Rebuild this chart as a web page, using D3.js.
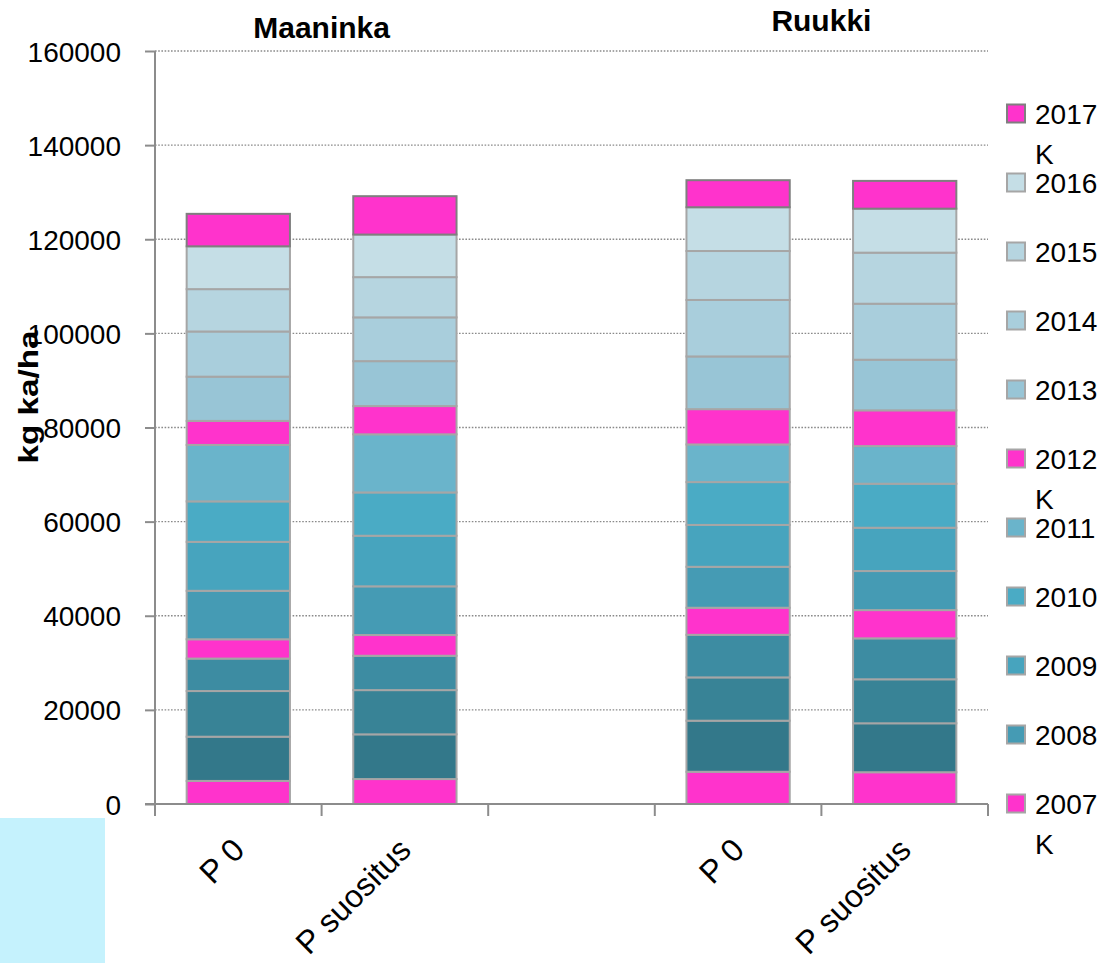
<!DOCTYPE html>
<html>
<head>
<meta charset="utf-8">
<script src="https://cdn.jsdelivr.net/npm/d3@7"></script>
<style>
  body { margin: 0; background: #fff; }
  text { font-family: "Liberation Sans", Arial, sans-serif; }
</style>
</head>
<body>
<div class="chart"></div>
<script>
// categories along x (third slot is an empty gap between the two sites)
const categories = ["m0", "ms", "gap", "r0", "rs"];
const catLabels = ["P 0", "P suositus", "", "P 0", "P suositus"];
const groups = ["Maaninka", "Ruukki"];

// stacked series, bottom to top
const series = ["2003 K", "2004", "2005", "2006", "2007 K", "2008", "2009", "2010",
                "2011", "2012 K", "2013", "2014", "2015", "2016", "2017 K"];
const colors = ["#ff33cc", "#33788a", "#388396", "#3d8ca2", "#ff33cc", "#459bb4", "#47a4be",
                "#4aabc5", "#6ab4cb", "#ff33cc", "#98c5d6", "#a9cedc", "#b6d5e0", "#c5dee6", "#ff33cc"];

const maaninkaP0 = [4900, 9400, 9700, 6900, 4100, 10300, 10400, 8600, 12000, 5100, 9400, 9600, 9000, 9100, 6900];
const maaninkaPs = [5300, 9500, 9400, 7300, 4400, 10350, 10750, 9200, 12350, 6000, 9550, 9300, 8550, 9050, 8150];
const ruukkiP0   = [6850, 10850, 9200, 9050, 5750, 8700, 8900, 9100, 8000, 7500, 11200, 12000, 10400, 9300, 5750];
const ruukkiPs   = [6750, 10400, 9350, 8700, 6000, 8300, 9200, 9350, 8000, 7600, 10750, 11900, 10850, 9350, 5900];

const yTicks = [0, 20000, 40000, 60000, 80000, 100000, 120000, 140000, 160000];

// legend shows only the entries that fit (Excel cut off the rest)
const legendSeries = series.slice(4).reverse();

const barValues = {m0: maaninkaP0, ms: maaninkaPs, r0: ruukkiP0, rs: ruukkiPs};
const table = categories.filter(c => barValues[c]).map(c => {
  const row = {cat: c};
  series.forEach((s, i) => row[s] = barValues[c][i]);
  return row;
});

const W = 1112, H = 963;
const plotLeft = 155, plotRight = 988, plotTop = 51, plotBottom = 804;

const svg = d3.select(".chart").append("svg")
  .attr("width", W)
  .attr("height", H);

const x = d3.scaleBand()
  .domain(categories)
  .range([plotLeft, plotRight])
  .paddingInner(0.38)
  .paddingOuter(0.19);

const y = d3.scaleLinear()
  .domain([0, 160000])
  .range([plotBottom, plotTop]);

const color = d3.scaleOrdinal().domain(series).range(colors);

// grid lines
svg.append("g")
  .selectAll("line")
  .data(yTicks.filter(d => d > 0))
  .enter()
  .append("line")
  .attr("x1", plotLeft).attr("x2", plotRight)
  .attr("y1", d => y(d)).attr("y2", d => y(d))
  .attr("stroke", "#8a8a8a")
  .attr("stroke-width", 1.3)
  .attr("stroke-dasharray", "1.6,1.6");

// y axis
const yAxis = svg.append("g")
  .attr("transform", `translate(${plotLeft},0)`)
  .call(d3.axisLeft(y).tickValues(yTicks).tickSize(10).tickSizeOuter(0).tickPadding(24).tickFormat(d3.format("d")));
yAxis.select(".domain").remove();
yAxis.selectAll(".tick line").attr("stroke", "#8c8c8c").attr("stroke-width", 2);
yAxis.selectAll("text")
  .attr("font-size", 28)
  .attr("fill", "#000")
  .attr("dy", "0.36em")
  .style("font-family", "Liberation Sans, Arial, sans-serif");

svg.append("line")
  .attr("x1", plotLeft).attr("x2", plotLeft)
  .attr("y1", y(160000)).attr("y2", plotBottom + 12)
  .attr("stroke", "#8c8c8c").attr("stroke-width", 2);

// stacked bars
const stacked = d3.stack().keys(series)(table);

svg.append("g")
  .selectAll("g")
  .data(stacked)
  .enter()
  .append("g")
  .attr("fill", d => color(d.key))
  .attr("stroke", (d, i) => i === series.length - 1 ? "#7f7f7f" : "#a6a6a6")
  .attr("stroke-width", 2)
  .selectAll("rect")
  .data(d => d)
  .enter()
  .append("rect")
  .attr("x", d => x(d.data.cat))
  .attr("y", d => y(d[1]))
  .attr("width", x.bandwidth())
  .attr("height", d => y(d[0]) - y(d[1]));

// x axis
svg.append("line")
  .attr("x1", plotLeft - 10).attr("x2", plotRight)
  .attr("y1", plotBottom).attr("y2", plotBottom)
  .attr("stroke", "#8c8c8c").attr("stroke-width", 2);

const step = x.step();
svg.append("g")
  .selectAll("line")
  .data(d3.range(categories.length + 1))
  .enter()
  .append("line")
  .attr("x1", i => plotLeft + i * step).attr("x2", i => plotLeft + i * step)
  .attr("y1", plotBottom).attr("y2", plotBottom + 12)
  .attr("stroke", "#8c8c8c").attr("stroke-width", 2);

svg.append("g")
  .selectAll("text")
  .data(categories.map((c, i) => ({cat: c, label: catLabels[i]})).filter(d => d.label))
  .enter()
  .append("text")
  .attr("transform", d => `translate(${x(d.cat) + x.bandwidth() / 2 + 8},${plotBottom + 48}) rotate(-45)`)
  .attr("text-anchor", "end")
  .attr("font-size", 32)
  .attr("fill", "#000")
  .text(d => d.label);

// site titles
const titlePos = [
  {name: groups[0], cx: (x("m0") + x("ms") + x.bandwidth()) / 2, by: 38},
  {name: groups[1], cx: (x("r0") + x("rs") + x.bandwidth()) / 2, by: 31}
];
svg.append("g")
  .selectAll("text")
  .data(titlePos)
  .enter()
  .append("text")
  .attr("x", d => d.cx)
  .attr("y", d => d.by)
  .attr("text-anchor", "middle")
  .attr("font-size", 30)
  .attr("font-weight", "bold")
  .text(d => d.name);

// y axis title
svg.append("text")
  .attr("transform", "translate(38,397) rotate(-90)")
  .attr("text-anchor", "middle")
  .attr("font-size", 27)
  .attr("font-weight", "bold")
  .attr("textLength", 133)
  .attr("lengthAdjust", "spacingAndGlyphs")
  .text("kg ka/ha");

// legend
const legend = svg.append("g")
  .selectAll("g")
  .data(legendSeries)
  .enter()
  .append("g")
  .attr("transform", (d, i) => `translate(1007,${113.5 + i * 69})`);

legend.append("rect")
  .attr("x", 0).attr("y", -9)
  .attr("width", 18).attr("height", 18)
  .attr("fill", d => color(d))
  .attr("stroke", (d, i) => i === 0 ? "#7f7f7f" : "#a6a6a6")
  .attr("stroke-width", 2);

legend.append("text")
  .attr("x", 28)
  .attr("y", 10)
  .attr("font-size", 28)
  .attr("fill", "#000")
  .each(function(d) {
    const parts = d.split(" ");
    d3.select(this).append("tspan").attr("x", 28).text(parts[0]);
    if (parts[1]) d3.select(this).append("tspan").attr("x", 28).attr("dy", 40).text(parts[1]);
  });

// pale blue patch in the lower-left corner
svg.append("rect")
  .attr("x", 0).attr("y", 818)
  .attr("width", 105).attr("height", H - 818)
  .attr("fill", "#c5f2fd");
</script>
</body>
</html>
